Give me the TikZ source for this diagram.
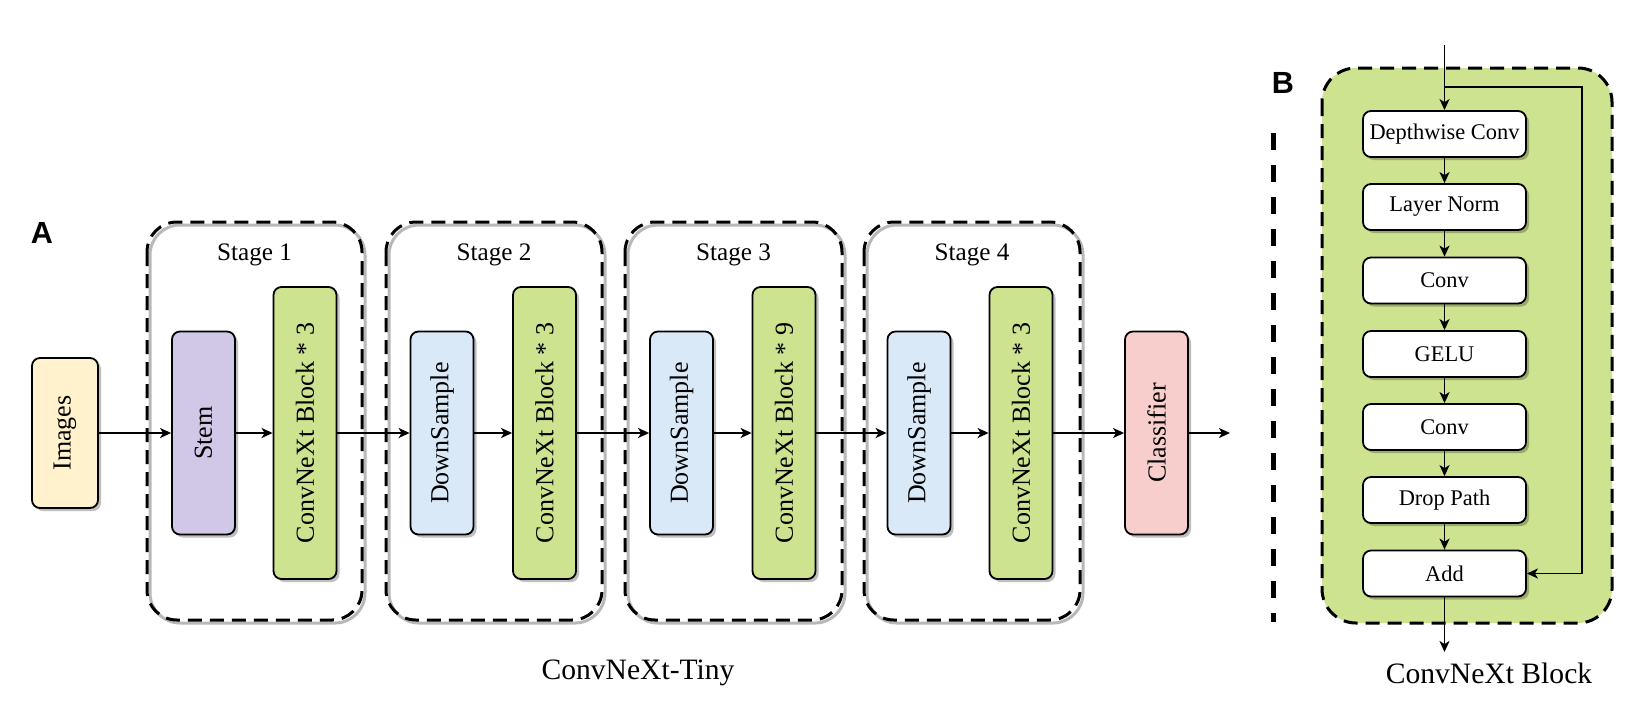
\documentclass[tikz,border=0pt]{standalone}
\usepackage{fontspec}
\setmainfont{Liberation Serif}
\newfontfamily\panelfont{Liberation Sans}
\usetikzlibrary{arrows.meta,shadows}

\definecolor{imgyellow}{RGB}{255,242,204}
\definecolor{stempurple}{RGB}{208,200,230}
\definecolor{downblue}{RGB}{218,233,248}
\definecolor{blockgreen}{RGB}{205,227,143}
\definecolor{clspink}{RGB}{248,206,204}

\tikzset{
    box/.style={draw, line width=0.9pt, rounded corners=4pt, inner sep=0pt,
        drop shadow={shadow xshift=1.5pt, shadow yshift=-1.5pt, fill=black, opacity=0.25}},
    shortbox/.style={box, minimum width=31.5pt, minimum height=101.5pt, font=\fontsize{13}{15}\selectfont},
    tallbox/.style={box, fill=blockgreen, minimum width=31.5pt, minimum height=146pt, font=\fontsize{13}{15}\selectfont},
    layerbox/.style={box, fill=white, minimum width=81.5pt, minimum height=23pt, font=\fontsize{11.2}{13}\selectfont},
    stagebox/.style={draw, line width=1.5pt, dash pattern=on 7pt off 4pt, rounded corners=15pt},
    stageshadow/.style={draw=black!28, line width=1.5pt, rounded corners=15pt, xshift=1.5pt, yshift=-1.5pt},
    stagelabel/.style={font=\fontsize{12.6}{15}\selectfont},
    divider/.style={line width=2.5pt, dash pattern=on 8.5pt off 7.5pt},
    caption/.style={font=\fontsize{14.8}{17}\selectfont},
    panel/.style={font=\panelfont\bfseries\fontsize{15.3}{18}\selectfont}
}

\begin{document}
\begin{tikzpicture}[x=0.5pt, y=-0.5pt, line width=0.9pt, >={Stealth[length=5.5pt, width=5pt, inset=1.5pt]}]
            \useasboundingbox (0,0) rectangle (1648,725);

            \draw[stageshadow] (147,222) rectangle (362,620);
            \draw[stagebox] (147,222) rectangle (362,620);
            \draw[stageshadow] (386,222) rectangle (602,620);
            \draw[stagebox] (386,222) rectangle (602,620);
            \draw[stageshadow] (625,222) rectangle (842,620);
            \draw[stagebox] (625,222) rectangle (842,620);
            \draw[stageshadow] (864,222) rectangle (1080,620);
            \draw[stagebox] (864,222) rectangle (1080,620);

            \node[stagelabel] (st1) at (254.5,255) {Stage 1};
            \node[stagelabel] (st2) at (494,255) {Stage 2};
            \node[stagelabel] (st3) at (733.5,255) {Stage 3};
            \node[stagelabel] (st4) at (972,255) {Stage 4};
            \node[panel] (labA) at (42,233) {A};

            \node[shortbox, fill=imgyellow, minimum width=33pt, minimum height=75pt] (img) at (65,433) {\rotatebox{90}{Images}};
            \node[shortbox, fill=stempurple] (stem) at (203.5,433) {\rotatebox{90}{Stem}};
            \node[tallbox] (blk1) at (305,433) {\rotatebox{90}{ConvNeXt Block * 3}};
            \node[shortbox, fill=downblue] (down2) at (442,433) {\rotatebox{90}{DownSample}};
            \node[tallbox] (blk2) at (544.5,433) {\rotatebox{90}{ConvNeXt Block * 3}};
            \node[shortbox, fill=downblue] (down3) at (681.5,433) {\rotatebox{90}{DownSample}};
            \node[tallbox] (blk3) at (784,433) {\rotatebox{90}{ConvNeXt Block * 9}};
            \node[shortbox, fill=downblue] (down4) at (919,433) {\rotatebox{90}{DownSample}};
            \node[tallbox] (blk4) at (1021,433) {\rotatebox{90}{ConvNeXt Block * 3}};
            \node[shortbox, fill=clspink] (cls) at (1156.5,433) {\rotatebox{90}{Classifier}};
            \coordinate (out) at (1230,433);

            \draw[->] (img) -- (stem);
            \draw[->] (stem) -- (blk1);
            \draw[->] (blk1) -- (down2);
            \draw[->] (down2) -- (blk2);
            \draw[->] (blk2) -- (down3);
            \draw[->] (down3) -- (blk3);
            \draw[->] (blk3) -- (down4);
            \draw[->] (down4) -- (blk4);
            \draw[->] (blk4) -- (cls);
            \draw[->] (cls) -- (out);

            \node[caption] (tiny) at (638,673) {ConvNeXt-Tiny};

            \draw[divider] (1273,133) -- (1273,622);
            \node[panel] (labB) at (1283,83) {B};
            \draw[stagebox, fill=blockgreen, rounded corners=17pt] (1322,68) rectangle (1612,623);

            \node[layerbox] (dw) at (1444.5,134) {Depthwise Conv};
            \node[layerbox] (ln) at (1444.5,207) {Layer Norm};
            \node[layerbox] (conv1) at (1444.5,280.5) {Conv};
            \node[layerbox] (gelu) at (1444.5,354) {GELU};
            \node[layerbox] (conv2) at (1444.5,427) {Conv};
            \node[layerbox] (drop) at (1444.5,500) {Drop Path};
            \node[layerbox] (add) at (1444.5,573.5) {Add};
            \coordinate (in) at (1444.5,45);
            \coordinate (split) at (1444.5,87);
            \coordinate (skip) at (1582,87);
            \coordinate (blkout) at (1444.5,652);

            \draw[->] (in) -- (dw);
            \draw[->] (dw) -- (ln);
            \draw[->] (ln) -- (conv1);
            \draw[->] (conv1) -- (gelu);
            \draw[->] (gelu) -- (conv2);
            \draw[->] (conv2) -- (drop);
            \draw[->] (drop) -- (add);
            \draw[->] (split) -- (skip) |- (add);
            \draw[->] (add) -- (blkout);

            \node[caption] (blkcap) at (1489,673) {ConvNeXt Block};
        \end{tikzpicture}
\end{document}
